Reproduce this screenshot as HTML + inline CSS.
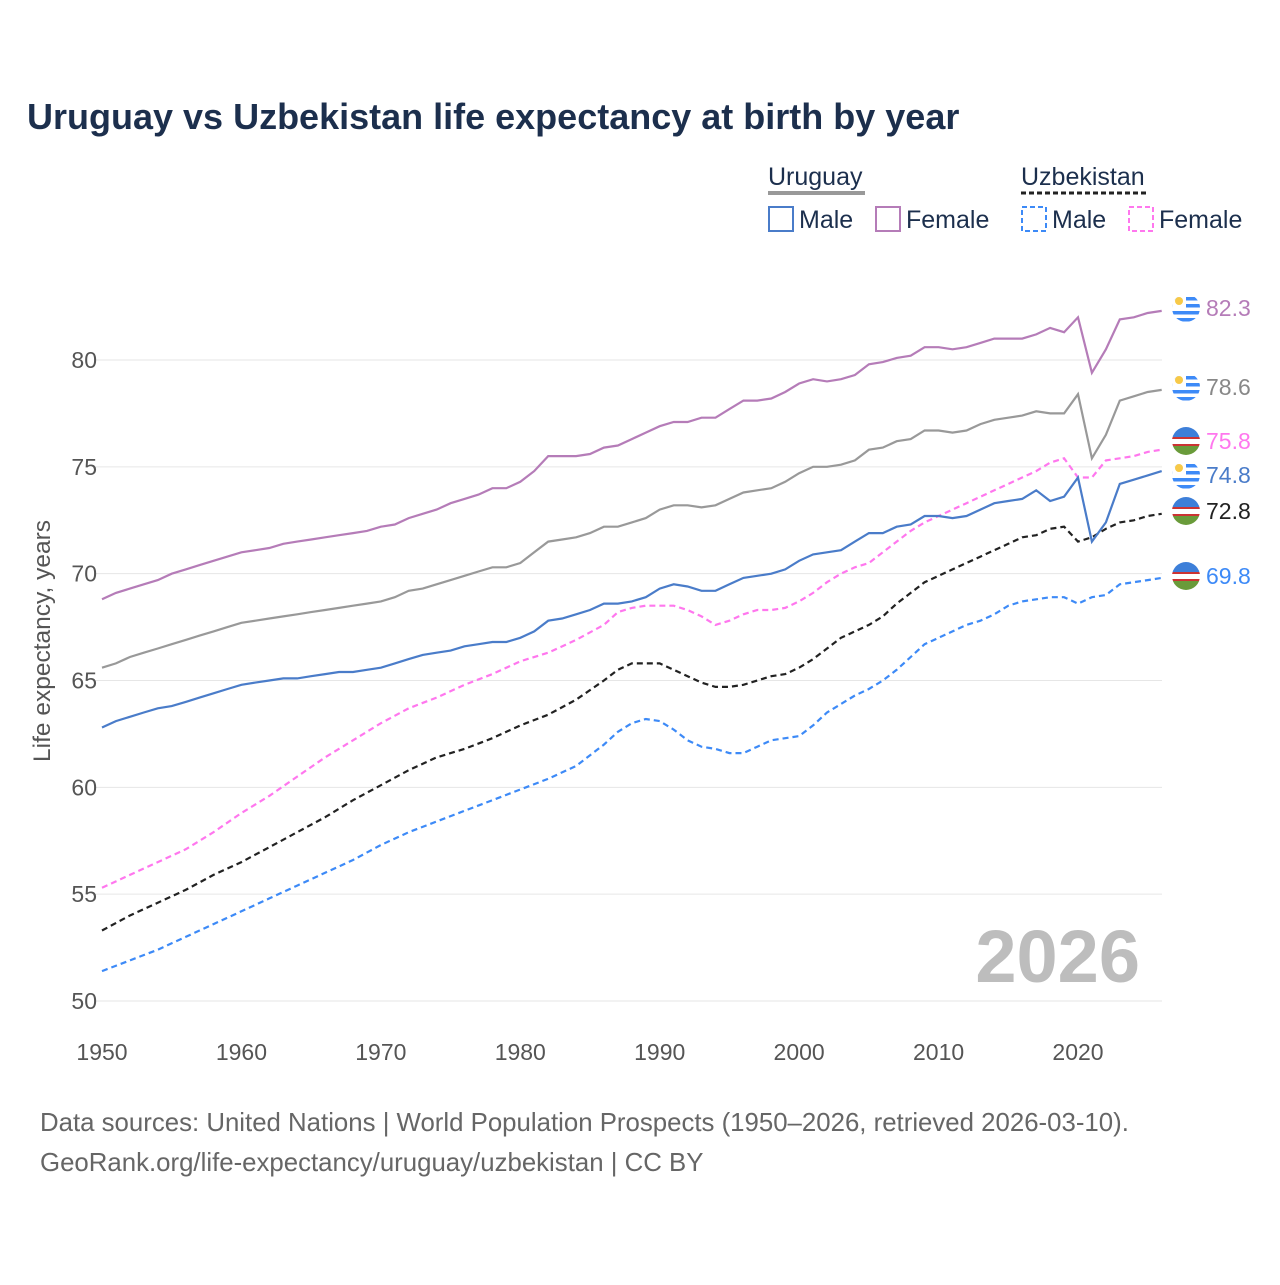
<!DOCTYPE html>
<html><head><meta charset="utf-8"><style>
body{margin:0;background:#fff;font-family:"Liberation Sans",sans-serif}
</style></head><body>
<svg width="1280" height="1280" viewBox="0 0 1280 1280" xmlns="http://www.w3.org/2000/svg">
<rect width="1280" height="1280" fill="#fff"/>
<text x="27" y="129" font-size="36" font-weight="bold" fill="#1c2f4d">Uruguay vs Uzbekistan life expectancy at birth by year</text>
<g font-size="25" fill="#1c2f4d">
<text x="768" y="185">Uruguay</text>
<line x1="768" y1="193" x2="865" y2="193" stroke="#999" stroke-width="4"/>
<text x="1021" y="185">Uzbekistan</text>
<line x1="1021" y1="193" x2="1149" y2="193" stroke="#222" stroke-width="3" stroke-dasharray="5,3"/>
<g><rect x="769" y="207" width="24" height="24" fill="none" stroke="#4a7cc9" stroke-width="2"/><text x="799" y="228">Male</text></g>
<g><rect x="876" y="207" width="24" height="24" fill="none" stroke="#b57cb8" stroke-width="2"/><text x="906" y="228">Female</text></g>
<g><rect x="1022" y="207" width="24" height="24" fill="none" stroke="#3d8af7" stroke-width="2" stroke-dasharray="5,3"/><text x="1052" y="228">Male</text></g>
<g><rect x="1129" y="207" width="24" height="24" fill="none" stroke="#ff77ee" stroke-width="2" stroke-dasharray="5,3"/><text x="1159" y="228">Female</text></g>
</g>
<g id="grid"></g>
<g id="series"></g>
<g id="endlabels"></g>
<text x="1140" y="982" text-anchor="end" font-size="74" font-weight="bold" fill="#bdbdbd">2026</text>
<text transform="translate(50,641) rotate(-90)" text-anchor="middle" font-size="24.5" fill="#555">Life expectancy, years</text>
<text x="40" y="1131" font-size="25.8" fill="#666">Data sources: United Nations | World Population Prospects (1950–2026, retrieved 2026-03-10).</text>
<text x="40" y="1171" font-size="25.8" fill="#666">GeoRank.org/life-expectancy/uruguay/uzbekistan | CC BY</text>
</svg>
<script>
const yTicks=[50,55,60,65,70,75,80];
const xTicks=[1950,1960,1970,1980,1990,2000,2010,2020];
const uyYears=[];for(let y=1950;y<=2026;y++)uyYears.push(y);
const uzYears=[1950,1952,1954,1956,1958,1960,1962,1964,1966,1968,1970,1972,1974,1976,1978,1980,1982,1984,1986];
for(let y=1987;y<=2026;y++)uzYears.push(y);
const uyFemale=[68.8,69.1,69.3,69.5,69.7,70.0,70.2,70.4,70.6,70.8,71.0,71.1,71.2,71.4,71.5,71.6,71.7,71.8,71.9,72.0,72.2,72.3,72.6,72.8,73.0,73.3,73.5,73.7,74.0,74.0,74.3,74.8,75.5,75.5,75.5,75.6,75.9,76.0,76.3,76.6,76.9,77.1,77.1,77.3,77.3,77.7,78.1,78.1,78.2,78.5,78.9,79.1,79.0,79.1,79.3,79.8,79.9,80.1,80.2,80.6,80.6,80.5,80.6,80.8,81.0,81.0,81.0,81.2,81.5,81.3,82.0,79.4,80.5,81.9,82.0,82.2,82.3];
const uyTotal=[65.6,65.8,66.1,66.3,66.5,66.7,66.9,67.1,67.3,67.5,67.7,67.8,67.9,68.0,68.1,68.2,68.3,68.4,68.5,68.6,68.7,68.9,69.2,69.3,69.5,69.7,69.9,70.1,70.3,70.3,70.5,71.0,71.5,71.6,71.7,71.9,72.2,72.2,72.4,72.6,73.0,73.2,73.2,73.1,73.2,73.5,73.8,73.9,74.0,74.3,74.7,75.0,75.0,75.1,75.3,75.8,75.9,76.2,76.3,76.7,76.7,76.6,76.7,77.0,77.2,77.3,77.4,77.6,77.5,77.5,78.4,75.4,76.5,78.1,78.3,78.5,78.6];
const uyMale=[62.8,63.1,63.3,63.5,63.7,63.8,64.0,64.2,64.4,64.6,64.8,64.9,65.0,65.1,65.1,65.2,65.3,65.4,65.4,65.5,65.6,65.8,66.0,66.2,66.3,66.4,66.6,66.7,66.8,66.8,67.0,67.3,67.8,67.9,68.1,68.3,68.6,68.6,68.7,68.9,69.3,69.5,69.4,69.2,69.2,69.5,69.8,69.9,70.0,70.2,70.6,70.9,71.0,71.1,71.5,71.9,71.9,72.2,72.3,72.7,72.7,72.6,72.7,73.0,73.3,73.4,73.5,73.9,73.4,73.6,74.5,71.5,72.4,74.2,74.4,74.6,74.8];
const uzFemale=[55.3,55.9,56.5,57.1,57.9,58.8,59.6,60.5,61.4,62.2,63.0,63.7,64.2,64.8,65.3,65.9,66.3,66.9,67.6,68.2,68.4,68.5,68.5,68.5,68.3,68.0,67.6,67.8,68.1,68.3,68.3,68.4,68.7,69.1,69.6,70.0,70.3,70.5,71.0,71.5,72.0,72.4,72.7,73.0,73.3,73.6,73.9,74.2,74.5,74.8,75.2,75.4,74.5,74.5,75.3,75.4,75.5,75.7,75.8];
const uzTotal=[53.3,54.0,54.6,55.2,55.9,56.5,57.2,57.9,58.6,59.4,60.1,60.8,61.4,61.8,62.3,62.9,63.4,64.1,65.0,65.5,65.8,65.8,65.8,65.5,65.2,64.9,64.7,64.7,64.8,65.0,65.2,65.3,65.6,66.0,66.5,67.0,67.3,67.6,68.0,68.6,69.1,69.6,69.9,70.2,70.5,70.8,71.1,71.4,71.7,71.8,72.1,72.2,71.5,71.7,72.1,72.4,72.5,72.7,72.8];
const uzMale=[51.4,51.9,52.4,53.0,53.6,54.2,54.8,55.4,56.0,56.6,57.3,57.9,58.4,58.9,59.4,59.9,60.4,61.0,62.0,62.6,63.0,63.2,63.1,62.7,62.2,61.9,61.8,61.6,61.6,61.9,62.2,62.3,62.4,62.9,63.5,63.9,64.3,64.6,65.0,65.5,66.1,66.7,67.0,67.3,67.6,67.8,68.1,68.5,68.7,68.8,68.9,68.9,68.6,68.9,69.0,69.5,69.6,69.7,69.8];

const NS="http://www.w3.org/2000/svg";
const X=y=>102+(y-1950)*(976/70);
const Y=v=>1001-(v-50)*(641/30);
const grid=document.getElementById('grid');
yTicks.forEach(t=>{
 const l=document.createElementNS(NS,'line');
 l.setAttribute('x1',95);l.setAttribute('x2',1162);l.setAttribute('y1',Y(t));l.setAttribute('y2',Y(t));
 l.setAttribute('stroke','#e6e6e6');l.setAttribute('stroke-width','1');
 
 
 grid.appendChild(l);
 const tx=document.createElementNS(NS,'text');
 tx.setAttribute('x',97);tx.setAttribute('y',Y(t)+8);tx.setAttribute('text-anchor','end');
 tx.setAttribute('font-size','23');tx.setAttribute('fill','#555');tx.textContent=t;
 
 
 grid.appendChild(tx);
});
xTicks.forEach(t=>{
 const tx=document.createElementNS(NS,'text');
 tx.setAttribute('x',X(t));tx.setAttribute('y',1060);tx.setAttribute('text-anchor','middle');
 tx.setAttribute('font-size','23');tx.setAttribute('fill','#555');tx.textContent=t;
 
 
 grid.appendChild(tx);
});
const seriesG=document.getElementById('series');
const labelsG=document.getElementById('endlabels');
const defs=[
 {years:uzYears,vals:uzMale,color:'#3d8af7',dash:'6,4',name:'uzbekistan-male-line',lc:'#3d8af7',flag:'uz'},
 {years:uzYears,vals:uzTotal,color:'#222',dash:'6,4',name:'uzbekistan-total-line',lc:'#222',flag:'uz'},
 {years:uzYears,vals:uzFemale,color:'#ff77ee',dash:'6,4',name:'uzbekistan-female-line',lc:'#ff77ee',flag:'uz'},
 {years:uyYears,vals:uyMale,color:'#4a7cc9',dash:null,name:'uruguay-male-line',lc:'#4a7cc9',flag:'uy'},
 {years:uyYears,vals:uyTotal,color:'#999',dash:null,name:'uruguay-total-line',lc:'#888',flag:'uy'},
 {years:uyYears,vals:uyFemale,color:'#b57cb8',dash:null,name:'uruguay-female-line',lc:'#b57cb8',flag:'uy'}
];
const labelY={ 'uruguay-female-line':308,'uruguay-total-line':387,'uzbekistan-female-line':441,'uruguay-male-line':475,'uzbekistan-total-line':511,'uzbekistan-male-line':576};
defs.forEach(d=>{
 const p=document.createElementNS(NS,'path');
 p.setAttribute('d',d.years.map((y,i)=>(i?'L':'M')+X(y).toFixed(1)+','+Y(d.vals[i]).toFixed(1)).join(''));
 p.setAttribute('fill','none');p.setAttribute('stroke',d.color);p.setAttribute('stroke-width','2.2');
 if(d.dash)p.setAttribute('stroke-dasharray',d.dash);
 
 
 seriesG.appendChild(p);
 const last=d.vals[d.vals.length-1];
 const ly=labelY[d.name];
 const g=document.createElementNS(NS,'g');
 
 
 const cx=1186;
 let svg='';
 if(d.flag==='uy'){
  svg=`<clipPath id="c${d.name}"><circle cx="${cx}" cy="${ly}" r="14"/></clipPath><g clip-path="url(#c${d.name})"><rect x="${cx-14}" y="${ly-14}" width="28" height="28" fill="#fff"/>`;
  for(let k=0;k<4;k++)svg+=`<rect x="${cx-14}" y="${ly-11+k*7}" width="28" height="3.5" fill="#3d8af7"/>`;
  svg+=`<rect x="${cx-14}" y="${ly-14}" width="14" height="14" fill="#fff"/><circle cx="${cx-7}" cy="${ly-7}" r="4" fill="#f7c948"/></g>`;
 }else{
  svg=`<clipPath id="c${d.name}"><circle cx="${cx}" cy="${ly}" r="14"/></clipPath><g clip-path="url(#c${d.name})"><rect x="${cx-14}" y="${ly-14}" width="28" height="10" fill="#3d7fd9"/><rect x="${cx-14}" y="${ly-4}" width="28" height="2" fill="#c33"/><rect x="${cx-14}" y="${ly-2}" width="28" height="5" fill="#fff"/><rect x="${cx-14}" y="${ly+3}" width="28" height="2" fill="#c33"/><rect x="${cx-14}" y="${ly+5}" width="28" height="9" fill="#6a9b3a"/></g>`;
 }
 svg+=`<text x="${cx+20}" y="${ly+8}" font-size="23" fill="${d.lc}">${last.toFixed(1)}</text>`;
 g.innerHTML=svg;
 labelsG.appendChild(g);
});
</script>
</body></html>
